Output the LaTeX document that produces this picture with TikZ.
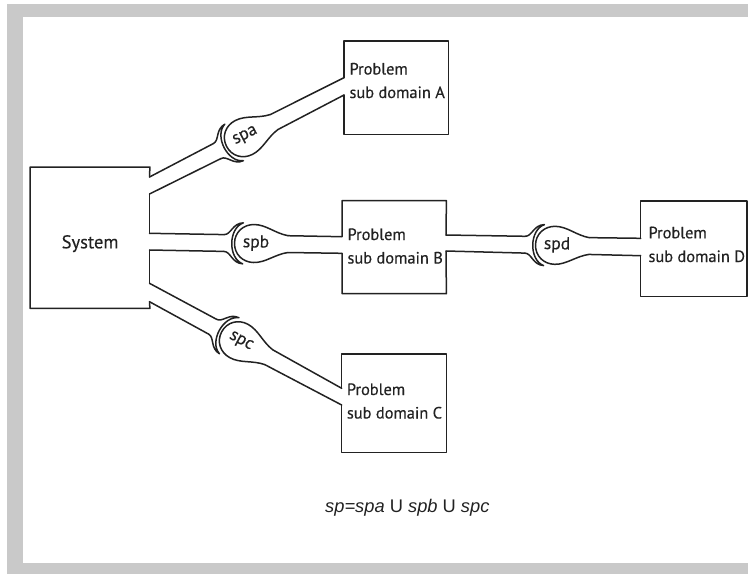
\documentclass[tikz,border=0pt]{standalone}
\usepackage{fontspec}
\setmainfont{PT Sans}[FakeBold=0.35]
\newfontfamily\formulafont{Liberation Sans}
\usetikzlibrary{calc}

\definecolor{ink}{HTML}{222222}
\definecolor{framegray}{HTML}{C9C9C9}

\tikzset{
  wire/.style={line width=1.5pt, draw=ink, line join=round, line cap=round},
  box/.style={draw=none, inner sep=0pt, anchor=north west},
  boxtext/.style={anchor=base west, inner sep=0pt, text=ink, font=\fontsize{16.4}{19}\selectfont},
  % coupling between two pipes: crescent on the source side, egg-shaped label on the other
  pics/coupler/.style={code={
    \draw[wire] (-29,-8.4) .. controls (-22,-8.4) and (-21,-20) .. (-10,-20.5)
                .. controls (-25,-15) and (-25,15) .. (-10,20.5)
                .. controls (-21,20) and (-22,8.4) .. (-29,8.4);
    \draw[wire] (35,-8.4) .. controls (22,-10.5) and (13,-19) .. (1,-19)
                .. controls (-10,-19) and (-18.5,-11) .. (-18.5,0)
                .. controls (-18.5,11) and (-10,19) .. (1,19)
                .. controls (13,19) and (22,10.5) .. (35,8.4);
    \node[transform shape, inner sep=0pt, text=ink, font=\fontsize{17.5}{20}\selectfont] (-label) at (3,-0.5) {#1};
    \coordinate (-ul) at (-29,-8.4);
    \coordinate (-ll) at (-29,8.4);
    \coordinate (-ur) at (35,-8.4);
    \coordinate (-lr) at (35,8.4);
  }}
}

\begin{document}
\begin{tikzpicture}[x=1pt,y=-1pt]
\useasboundingbox (0,0) rectangle (748,574);

% grey frame (top, left and bottom bands)
\fill[framegray] (7,4) rectangle (748,17);
\fill[framegray] (7,4) rectangle (23,574);
\fill[framegray] (7,563) rectangle (748,574);

% boxes
\node[box, minimum width=119.5pt, minimum height=141pt] (sys) at (30,167) {};
\node[box, minimum width=104pt, minimum height=93.3pt] (pa) at (344,41) {};
\node[box, minimum width=104pt, minimum height=92.6pt] (pb) at (342,200.7) {};
\node[box, minimum width=104.3pt, minimum height=98pt] (pc) at (341.7,354) {};
\node[box, minimum width=106pt, minimum height=95pt] (pd) at (640.7,201) {};

% pipe ends on the box edges
\coordinate (sysA1) at (149.5,177);
\coordinate (sysA2) at (149.5,194);
\coordinate (sysB1) at (149.5,233.3);
\coordinate (sysB2) at (149.5,250);
\coordinate (sysC1) at (149.5,283.3);
\coordinate (sysC2) at (149.5,301.7);
\coordinate (paIn1) at (344,77.7);
\coordinate (paIn2) at (344,95);
\coordinate (pbIn1) at (342,236.7);
\coordinate (pbIn2) at (342,253.3);
\coordinate (pbOut1) at (446,235);
\coordinate (pbOut2) at (446,251);
\coordinate (pcIn1) at (341.7,388.3);
\coordinate (pcIn2) at (341.7,405);
\coordinate (pdIn1) at (640.7,238.3);
\coordinate (pdIn2) at (640.7,255.7);

% box outlines, open where the pipes enter
\draw[wire] (sysA1) -- (sys.north east) -- (sys.north west) -- (sys.south west) -- (sys.south east) -- (sysC2);
\draw[wire] (sysA2) -- (sysB1);
\draw[wire] (sysB2) -- (sysC1);
\draw[wire] (paIn1) -- (pa.north west) -- (pa.north east) -- (pa.south east) -- (pa.south west) -- (paIn2);
\draw[wire] (pbIn1) -- (pb.north west) -- (pb.north east) -- (pbOut1);
\draw[wire] (pbOut2) -- (pb.south east) -- (pb.south west) -- (pbIn2);
\draw[wire] (pcIn1) -- (pc.north west) -- (pc.north east) -- (pc.south east) -- (pc.south west) -- (pcIn2);
\draw[wire] (pdIn1) -- (pd.north west) -- (pd.north east) -- (pd.south east) -- (pd.south west) -- (pdIn2);

% couplings
\pic[rotate=27] (spa) at (243,137.9) {coupler=spa};
\pic[rotate=-1] (spb) at (253,243.5) {coupler=spb};
\pic[rotate=-28.5] (spc) at (238,340.5) {coupler=spc};
\pic[rotate=-1.2] (spd) at (554,245.3) {coupler=spd};

% pipes
\draw[wire] (sysA1) -- (spa-ul);
\draw[wire] (sysA2) -- (spa-ll);
\draw[wire] (spa-ur) -- (paIn1);
\draw[wire] (spa-lr) -- (paIn2);
\draw[wire] (sysB1) -- (spb-ul);
\draw[wire] (sysB2) -- (spb-ll);
\draw[wire] (spb-ur) -- (pbIn1);
\draw[wire] (spb-lr) -- (pbIn2);
\draw[wire] (sysC1) -- (spc-ul);
\draw[wire] (sysC2) -- (spc-ll);
\draw[wire] (spc-ur) -- (pcIn1);
\draw[wire] (spc-lr) -- (pcIn2);
\draw[wire] (pbOut1) -- (spd-ul);
\draw[wire] (pbOut2) -- (spd-ll);
\draw[wire] (spd-ur) -- (pdIn1);
\draw[wire] (spd-lr) -- (pdIn2);

% texts
\node[boxtext, font=\fontsize{18.5}{22}\selectfont] (systxt) at (61.5,248.3) {System};
\node[boxtext] (pa1) at (349.3,74.5) {Problem};
\node[boxtext] (pa2) at (349.3,98) {sub domain A};
\node[boxtext] (pb1) at (347.3,240) {Problem};
\node[boxtext] (pb2) at (347.3,263.5) {sub domain B};
\node[boxtext] (pc1) at (346.7,395) {Problem};
\node[boxtext] (pc2) at (346.7,418.5) {sub domain C};
\node[boxtext] (pd1) at (648.3,238.3) {Problem};
\node[boxtext] (pd2) at (648.3,262) {sub domain D};

\node[anchor=base west, inner sep=0pt, text=ink, font=\formulafont\fontsize{18.3}{21}\selectfont] (formula)
  at (325,512.5) {\textit{sp=spa} U \textit{spb} U \textit{spc}};
\end{tikzpicture}
\end{document}
